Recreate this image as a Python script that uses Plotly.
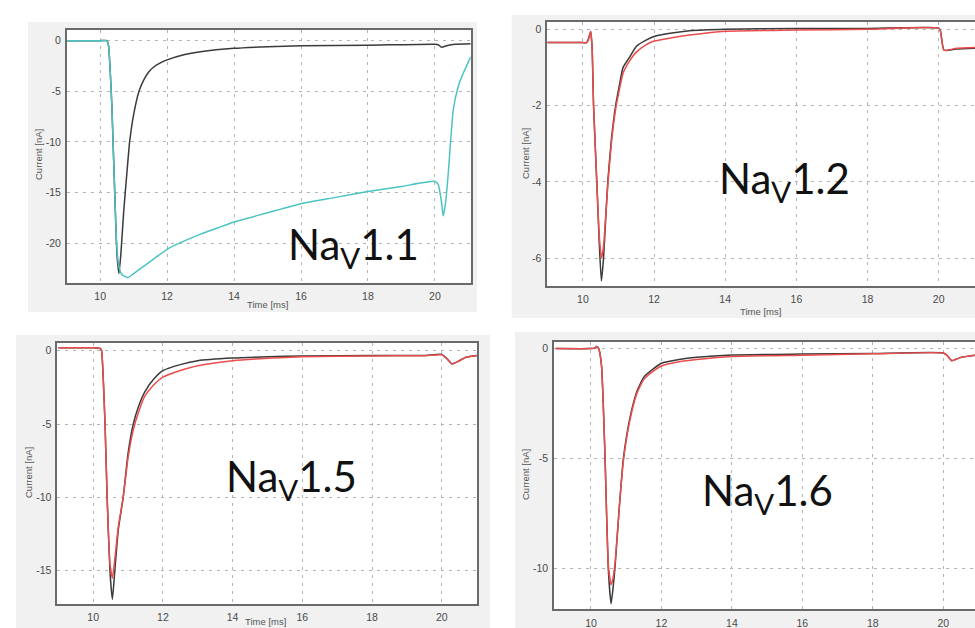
import plotly.graph_objects as go

W, H = 975, 628

# ---------------- data ----------------
# Panel Nav1.1
t_p1_black = [9.0, 10.0, 10.2, 10.25, 10.3, 10.35, 10.4, 10.45, 10.5, 10.56, 10.62, 10.7, 10.8, 10.88,
              11.0, 11.16, 11.3, 11.45, 11.6, 11.8, 12.0, 12.5, 13.0, 14.0, 15.0, 16.0, 18.0, 20.0, 20.1, 20.2,
              20.35, 20.6, 21.07]
i_p1_black = [0.0, 0.0, 0.0, -0.5, -3.0, -6.5, -11.5, -16.5, -21.0, -23.0, -21.0, -17.0, -13.0, -10.0,
              -7.3, -5.0, -3.9, -3.1, -2.6, -2.2, -1.9, -1.4, -1.1, -0.76, -0.6, -0.5, -0.45, -0.35, -0.4, -0.65,
              -0.5, -0.35, -0.3]
t_p1_cyan = [9.0, 10.0, 10.2, 10.25, 10.3, 10.35, 10.4, 10.45, 10.5, 10.56, 10.65, 10.83, 11.0, 11.5,
             12.0, 12.5, 13.0, 13.5, 14.0, 15.0, 16.0, 17.0, 18.0, 19.0, 20.0, 20.1, 20.2, 20.25,
             20.32, 20.4, 20.55, 20.7, 20.85, 21.07]
i_p1_cyan = [0.0, 0.0, 0.0, -0.5, -3.0, -6.5, -11.5, -16.5, -20.5, -22.3, -23.1, -23.4, -23.0, -21.8,
             -20.6, -19.8, -19.1, -18.5, -17.9, -17.0, -16.1, -15.5, -14.9, -14.4, -13.9, -14.2, -16.0, -17.3,
             -16.0, -13.1, -6.8, -4.5, -3.2, -1.6]

# Panel Nav1.2
t_p2 = [9.0, 10.0, 10.1, 10.15, 10.22, 10.26, 10.3, 10.4, 10.46, 10.52, 10.58, 10.64, 10.7, 10.8,
        10.92, 11.0, 11.13, 11.3, 11.5, 11.75, 12.0, 12.5, 13.0, 14.0, 16.0, 18.0, 20.0, 20.05,
        20.15, 20.5, 21.02]
i_p2_black = [-0.35, -0.35, -0.35, -0.28, -0.06, -0.5, -2.0, -4.2, -5.6, -6.6, -6.0, -5.0, -4.0, -2.9,
              -2.0, -1.6, -1.0, -0.75, -0.45, -0.3, -0.19, -0.1, -0.04, 0.0, 0.02, 0.02, 0.03, -0.05,
              -0.55, -0.52, -0.5]
i_p2_red = [-0.35, -0.35, -0.35, -0.28, -0.06, -0.5, -2.0, -4.2, -5.4, -6.0, -5.7, -4.9, -4.1, -3.0,
            -2.1, -1.7, -1.15, -0.85, -0.6, -0.42, -0.31, -0.22, -0.15, -0.05, -0.02, 0.0, 0.03, -0.05,
            -0.55, -0.5, -0.48]

# Panel Nav1.5
t_p3 = [9.0, 10.0, 10.2, 10.24, 10.29, 10.34, 10.4, 10.48, 10.55, 10.62, 10.72, 10.86, 11.0, 11.15,
        11.3, 11.48, 11.75, 12.0, 12.5, 13.0, 14.0, 15.0, 16.0, 18.0, 19.5, 20.0, 20.15, 20.29,
        20.45, 20.7, 21.02]
i_p3_black = [0.2, 0.2, 0.15, 0.0, -2.0, -5.0, -10.0, -15.0, -16.95, -15.0, -12.2, -10.0, -7.0, -5.0,
              -3.8, -2.8, -1.9, -1.36, -0.95, -0.68, -0.5, -0.42, -0.36, -0.33, -0.33, -0.25, -0.55, -0.9,
              -0.75, -0.45, -0.33]
i_p3_red = [0.2, 0.2, 0.15, 0.0, -2.0, -5.0, -10.0, -14.5, -15.5, -14.2, -12.0, -10.0, -7.3, -5.4,
            -4.2, -3.1, -2.3, -1.8, -1.35, -1.02, -0.68, -0.52, -0.42, -0.36, -0.34, -0.28, -0.55, -0.9,
            -0.75, -0.45, -0.33]

# Panel Nav1.6
t_p4 = [9.0, 10.0, 10.1, 10.16, 10.22, 10.3, 10.4, 10.49, 10.57, 10.62, 10.68, 10.8, 10.92, 11.1,
        11.3, 11.5, 11.75, 12.0, 12.5, 13.0, 14.0, 16.0, 18.0, 20.0, 20.1, 20.24, 20.5, 20.9]
i_p4_black = [0.0, 0.0, 0.02, 0.09, 0.0, -0.8, -5.0, -10.0, -11.62, -11.0, -10.0, -7.3, -5.0, -3.2,
              -1.96, -1.3, -0.95, -0.67, -0.5, -0.4, -0.29, -0.25, -0.22, -0.2, -0.3, -0.55, -0.4, -0.3]
i_p4_red = [0.0, 0.0, 0.02, 0.09, 0.0, -0.8, -5.0, -9.8, -10.75, -10.5, -9.8, -7.3, -5.1, -3.3,
            -2.05, -1.4, -1.05, -0.79, -0.6, -0.5, -0.36, -0.3, -0.24, -0.2, -0.3, -0.55, -0.4, -0.3]

x_ticks = [10, 12, 14, 16, 18, 20]
y_ticks_p1 = [0, -5, -10, -15, -20]
y_ticks_p2 = [0, -2, -4, -6]
y_ticks_p3 = [0, -5, -10, -15]
y_ticks_p4 = [0, -5, -10]
labels = ["1.1", "1.2", "1.5", "1.6"]
x_title = "Time [ms]"
y_title = "Current [nA]"

# ---------------- layout helpers ----------------
def fx(px):
    return px / W

def fy(py):
    return 1 - py / H

BLACK = "#3a3a3a"
CYAN = "#4cc3c3"
RED = "#ec4c4c"
GRID = "#b4b4b4"
FRAME = "#6a6a6a"
TICKC = "#4a4a4a"
TITLEC = "#555555"

# plot areas in pixels: (left, top, right, bottom), ranges, title positions
panels = [
    dict(box=(66.7, 30, 470.7, 282.7), xr=[9.0, 21.07], yr=[-23.9, 1.05], yt=y_ticks_p1,
         series=[(t_p1_black, i_p1_black, BLACK), (t_p1_cyan, i_p1_cyan, CYAN)],
         bg=(28, 22, 477, 312), xt=(267, 305), ytp=(38, 155)),
    dict(box=(547.3, 22, 975, 286), xr=[9.0, 21.02], yr=[-6.73, 0.19], yt=y_ticks_p2,
         series=[(t_p2, i_p2_black, BLACK), (t_p2, i_p2_red, RED)],
         bg=(511.7, 15, 975, 318), xt=(760, 311), ytp=(525, 154)),
    dict(box=(57.3, 342.7, 477.3, 604), xr=[8.97, 21.02], yr=[-17.27, 0.545], yt=y_ticks_p3,
         series=[(t_p3, i_p3_black, BLACK), (t_p3, i_p3_red, RED)],
         bg=(16, 335, 490, 628), xt=(265, 621.5), ytp=(28, 473)),
    dict(box=(554, 342, 975, 609.3), xr=[8.95, 20.9], yr=[-11.87, 0.3], yt=y_ticks_p4,
         series=[(t_p4, i_p4_black, BLACK), (t_p4, i_p4_red, RED)],
         bg=(515, 332, 975, 628), xt=None, ytp=(525, 475)),
]

fig = go.Figure()
shapes = []
annotations = []
layout = {}

for k, p in enumerate(panels, start=1):
    xa = "x" if k == 1 else f"x{k}"
    ya = "y" if k == 1 else f"y{k}"
    for (t, v, c) in p["series"]:
        fig.add_trace(go.Scatter(x=t, y=v, mode="lines", xaxis=xa, yaxis=ya,
                                 line=dict(color=c, width=1.5, shape="spline", smoothing=0.5),
                                 showlegend=False, hoverinfo="skip"))
    l, t_, r, b = p["box"]
    bl, bt, br, bb = p["bg"]
    shapes.append(dict(type="rect", xref="paper", yref="paper", layer="below",
                       x0=fx(bl), x1=fx(br), y0=fy(bb), y1=fy(bt),
                       fillcolor="#f1f1f1", line=dict(width=0)))
    shapes.append(dict(type="rect", xref="paper", yref="paper", layer="below",
                       x0=fx(l), x1=fx(r), y0=fy(b), y1=fy(t_),
                       fillcolor="#ffffff", line=dict(width=0)))
    xkey = "xaxis" if k == 1 else f"xaxis{k}"
    ykey = "yaxis" if k == 1 else f"yaxis{k}"
    layout[xkey] = dict(domain=[fx(l), fx(r)], range=p["xr"], anchor=ya, automargin=False,
                        tickvals=x_ticks, ticktext=[str(v) for v in x_ticks],
                        showgrid=True, gridcolor=GRID, griddash="3px,5px", gridwidth=1,
                        zeroline=False, showline=True, linecolor=FRAME, linewidth=1.5, mirror=True,
                        ticks="", ticklabelstandoff=3,
                        tickfont=dict(family="Liberation Sans", size=10.5, color=TICKC))
    layout[ykey] = dict(domain=[fy(b), fy(t_)], range=p["yr"], anchor=xa, automargin=False,
                        tickvals=p["yt"], ticktext=[str(v) for v in p["yt"]],
                        showgrid=True, gridcolor=GRID, griddash="3px,5px", gridwidth=1,
                        zeroline=False, showline=True, linecolor=FRAME, linewidth=1.5, mirror=True,
                        ticks="", ticklabelstandoff=2,
                        tickfont=dict(family="Liberation Sans", size=10.5, color=TICKC))
    if p["xt"] is not None:
        annotations.append(dict(xref="paper", yref="paper", x=fx(p["xt"][0]), y=fy(p["xt"][1]),
                                xanchor="center", yanchor="middle", showarrow=False, text=x_title,
                                font=dict(family="Liberation Sans", size=9.5, color=TITLEC)))
    annotations.append(dict(xref="paper", yref="paper", x=fx(p["ytp"][0]), y=fy(p["ytp"][1]),
                            xanchor="center", yanchor="middle", showarrow=False, text=y_title,
                            textangle=-90,
                            font=dict(family="Liberation Sans", size=9.5, color=TITLEC)))

# big channel labels
label_pos = [(353, 247), (784, 181), (291, 479), (767, 493)]
for lab, (cx, cy) in zip(labels, label_pos):
    annotations.append(dict(xref="paper", yref="paper", x=fx(cx), y=fy(cy),
                            xanchor="center", yanchor="middle", showarrow=False,
                            text=f"Na<sub>V</sub>{lab}",
                            font=dict(family="Lato", size=42, color="#111111")))

fig.update_layout(width=W, height=H, margin=dict(l=0, r=0, t=0, b=0),
                  paper_bgcolor="#ffffff", plot_bgcolor="rgba(0,0,0,0)",
                  shapes=shapes, annotations=annotations, **layout)

fig.write_html("out.html")
